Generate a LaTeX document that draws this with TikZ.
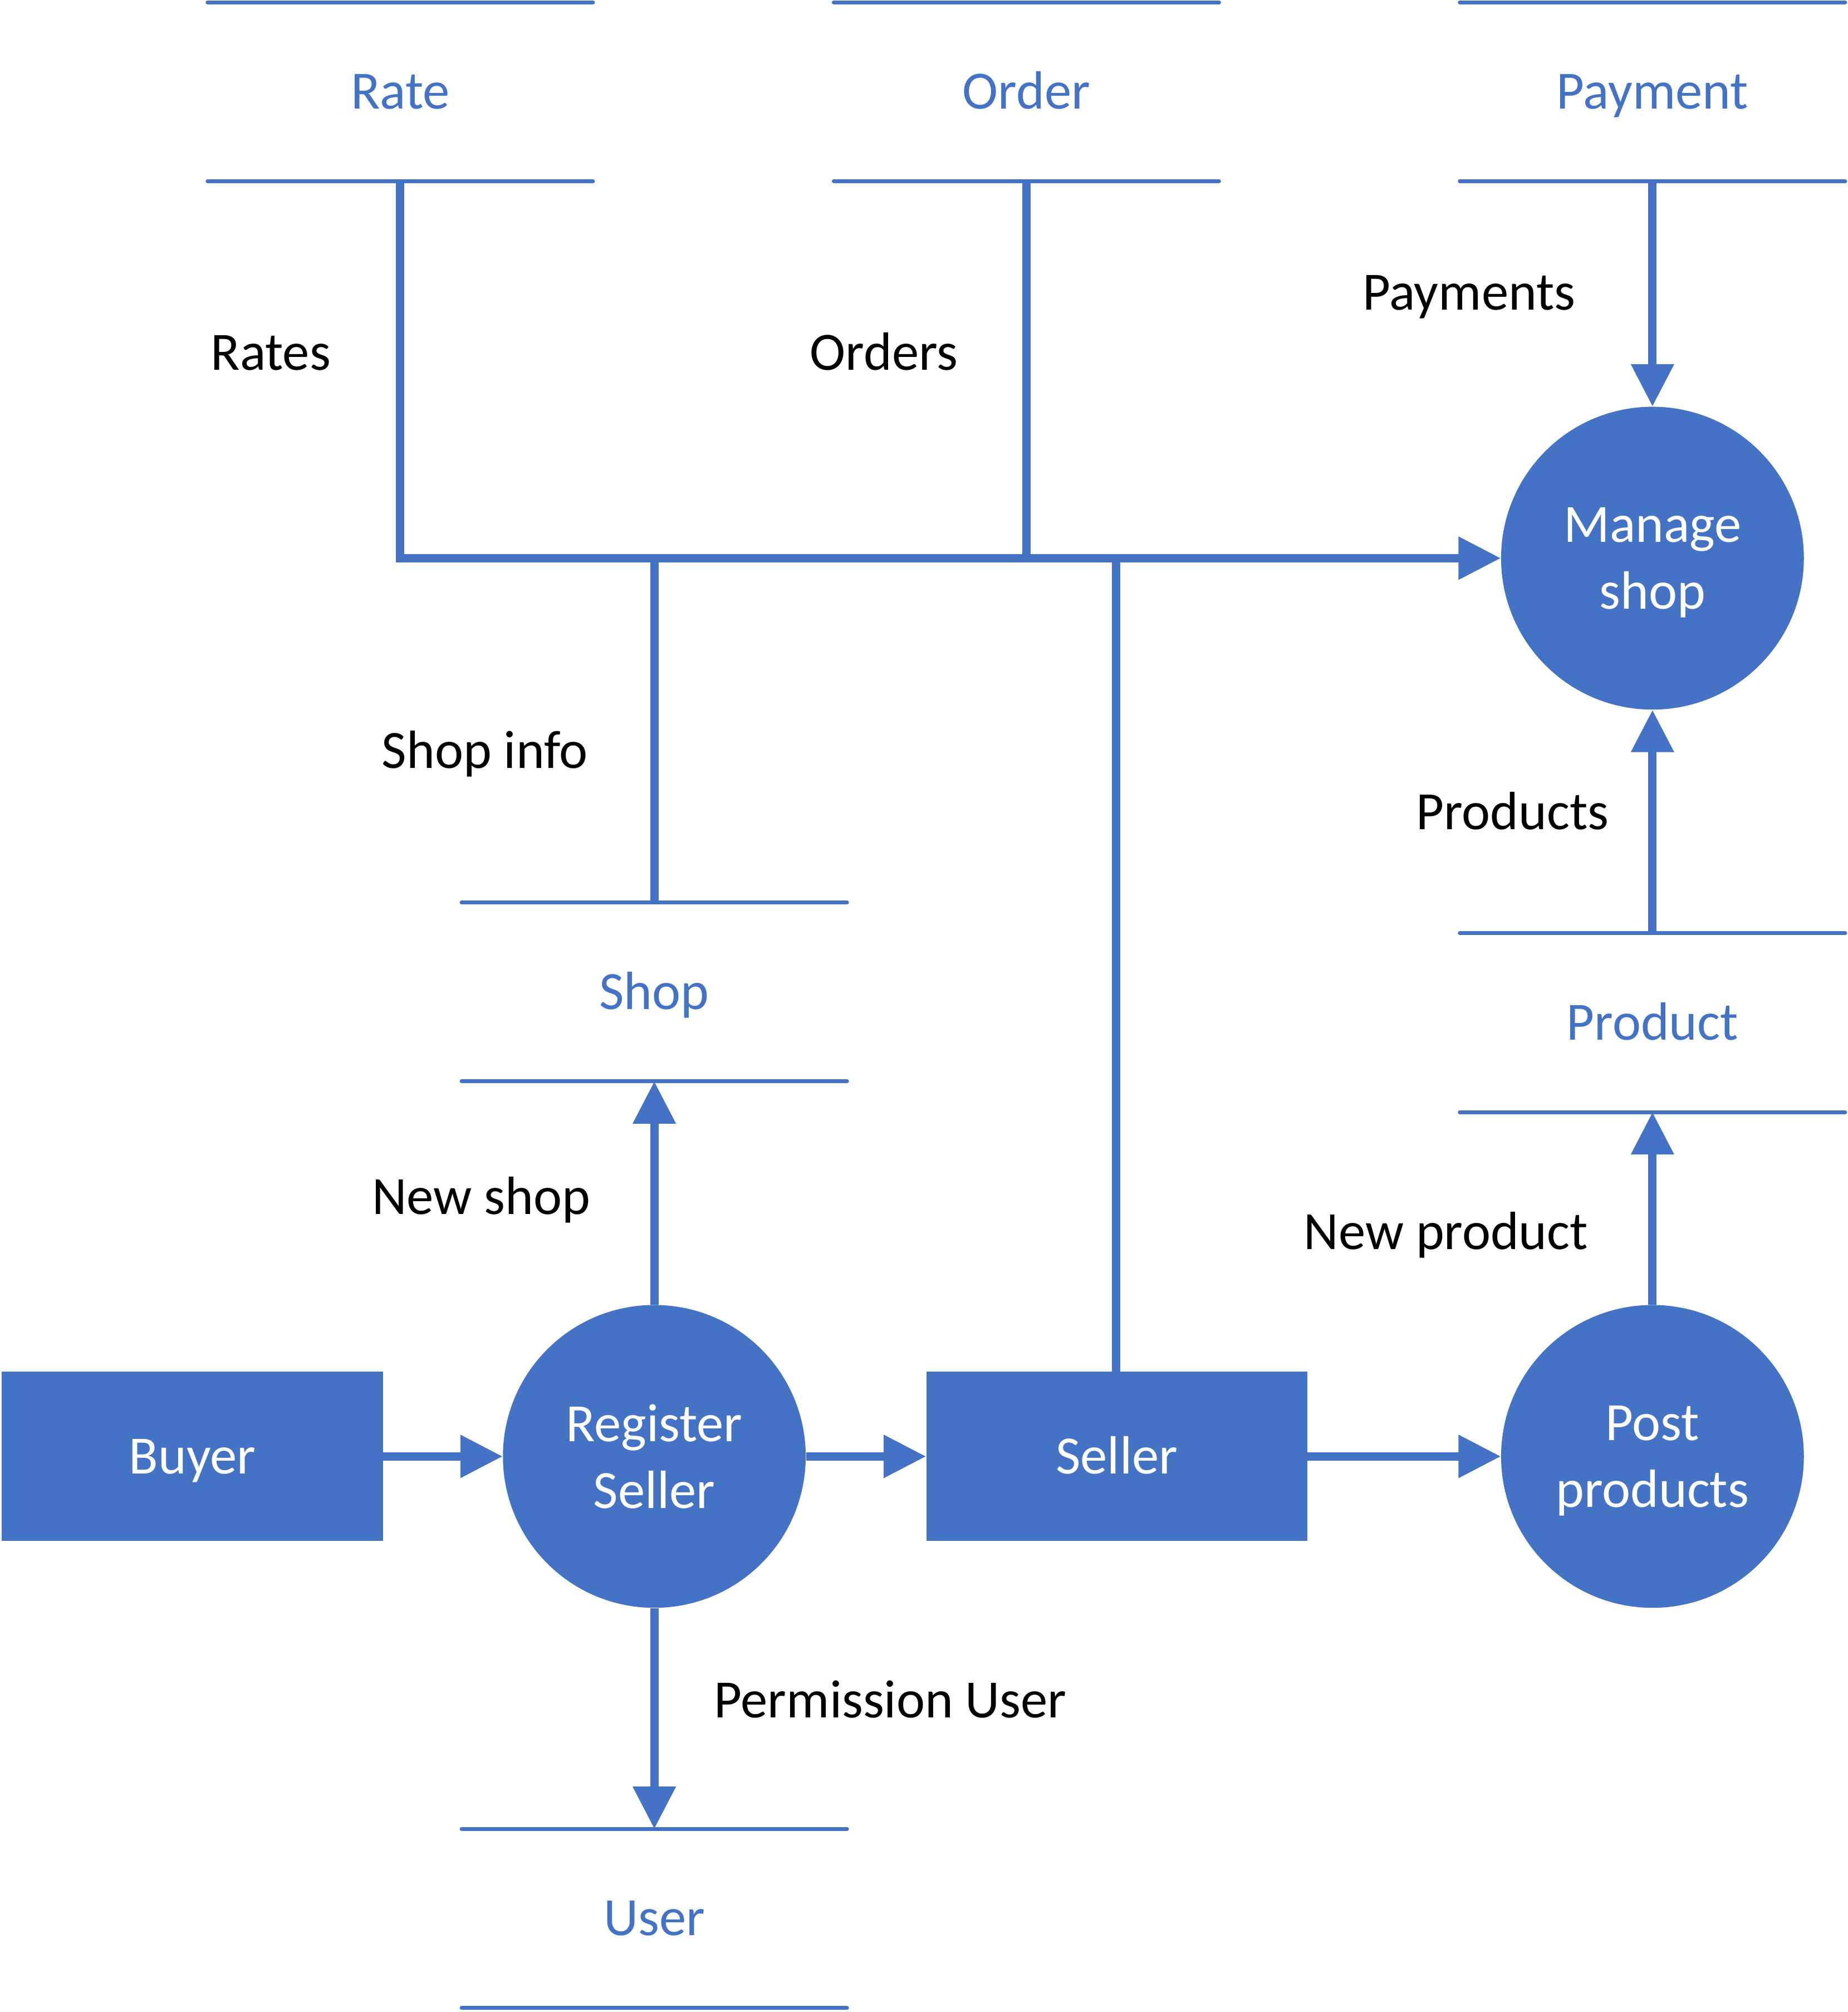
\documentclass[tikz,border=0pt]{standalone}
\usepackage{fontspec}
\setmainfont{Carlito}
\usetikzlibrary{arrows.meta}
\definecolor{mblue}{HTML}{4472C4}
\tikzset{
  x=1pt, y=-1pt,
  every node/.style={font=\fontsize{42}{52}\selectfont},
  store/.style={minimum width=300pt, minimum height=139pt, inner sep=0pt, text=mblue, text height=27pt, text depth=0pt},
  storeline/.style={draw=mblue, line width=3pt, line cap=round},
  proc/.style={circle, fill=mblue, minimum size=236pt, inner sep=0pt, text=white, align=center},
  ent/.style={rectangle, fill=mblue, minimum width=297pt, minimum height=132pt, inner sep=0pt, text=white, text height=27pt, text depth=0pt},
  flow/.style={draw=mblue, line width=6.5pt},
  aflow/.style={flow, -{Triangle[length=33pt,width=32pt]}},
  lbl/.style={text=black, inner sep=0pt, text height=27pt, text depth=0pt},
}
\newcommand{\storelines}[1]{%
  \draw[storeline] (#1.north west) -- (#1.north east);
  \draw[storeline] (#1.south west) -- (#1.south east);}
\newcommand{\nodepth}[1]{\raisebox{0pt}[\height][0pt]{#1}}
\begin{document}
\begin{tikzpicture}
\useasboundingbox (0,0) rectangle (1440,1568);
% stores
\node[store] (rate) at (312,71.5) {Rate};
\node[store] (order) at (800,71.5) {Order};
\node[store] (payment) at (1288,71.5) {Payment};
\node[store] (shop) at (510,773) {Shop};
\node[store] (product) at (1288,797) {Product};
\node[store] (user) at (510,1495) {User};
\storelines{rate}\storelines{order}\storelines{payment}
\storelines{shop}\storelines{product}\storelines{user}
% processes
\node[proc] (manage) at (1288,435) {Manage\\\nodepth{shop}};
\node[proc] (register) at (510,1135) {Register\\Seller};
\node[proc] (post) at (1288,1135) {Post\\\nodepth{products}};
% entities
\node[ent] (buyer) at (150,1135) {Buyer};
\node[ent] (seller) at (870.5,1135) {Seller};
% bus coordinates
\coordinate (busL) at (312,435);
\coordinate (busO) at (800,435);
\coordinate (busS) at (510,435);
\coordinate (busE) at (870,435);
% connectors
\draw[flow, line join=miter] (rate.south) -- (busL) -- (busO);
\draw[aflow] (busO) -- (manage.west);
\draw[flow] (order.south) -- (busO);
\draw[flow] (busS) -- (shop.north);
\draw[flow] (busE) -- (busE |- seller.north);
\draw[aflow] (payment.south) -- (manage.north);
\draw[aflow] (product.north) -- (manage.south);
\draw[aflow] (post.north) -- (product.south);
\draw[aflow] (register.north) -- (shop.south);
\draw[aflow] (register.south) -- (user.north);
\draw[aflow] (buyer.east) -- (register.west);
\draw[aflow] (register.east) -- (seller.west);
\draw[aflow] (seller.east) -- (post.west);
% labels
\node[lbl] (lrates) at (211,275) {Rates};
\node[lbl] (lorders) at (689,275) {Orders};
\node[lbl] (lpayments) at (1145,228) {Payments};
\node[lbl] (lshopinfo) at (378,585) {Shop info};
\node[lbl] (lproducts) at (1179,633) {Products};
\node[lbl] (lnewshop) at (375,933) {New shop};
\node[lbl] (lnewproduct) at (1127,960) {New product};
\node[lbl] (lperm) at (694,1325) {Permission User};
\end{tikzpicture}
\end{document}
